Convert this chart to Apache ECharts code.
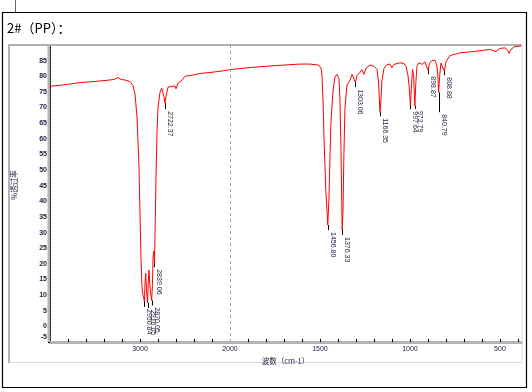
<!DOCTYPE html>
<html><head><meta charset="utf-8">
<script src="https://cdn.jsdelivr.net/npm/echarts@6/dist/echarts.min.js"></script>
<style>html,body{margin:0;padding:0;background:#fff}#c{width:532px;height:392px}</style>
</head><body><div id="c"></div>
<script>
const titleText = '2#（PP）：';
const xName = '波数（cm-1）';
const yName = '%透过率';
const xTickLabels = [3000, 2000, 1500, 1000, 500];
const yTickLabels = [-5,0,5,10,15,20,25,30,35,40,45,50,55,60,65,70,75,80,85];

const wavenumbers = [4000,3889,3778,3667,3556,3444,3333,3278,3244,3211,3167,3111,3078,3056,3033,3011,3000,2989,2978,2967,2958,2950.84,2944,2936,2928,2916.05,2908,2900,2890,2880,2870.05,2862,2855,2848,2839.06,2833,2822,2811,2800,2778,2759,2744,2733,2722.37,2711,2700,2689,2644,2611,2600,2578,2533,2500,2411,2333,2222,2111,2000,
1889,1778,1667,1611,1556,1511,1494,1489,1483,1478,1472,1467,1461,1456.80,1450,1444,1439,1428,1417,1406,1394,1389,1383,1379,1376.33,1372,1367,1361,1350,1333,1322,1311,1303.06,1294,1278,1267,1256,1244,1222,1200,1183,1175,1166.35,1161,1156,1144,1128,1111,1100,1089,1056,1033,1022,1011,1004,997.64,992,986,980,972.79,967,961,950,933,917,906,898.87,892,878,861,850,845,840.79,835,828,817,808.88,800,778,722,628,556,522,500,472,456,450,439,417,383];
const transmittance = [76.8,77.1,77.5,78.0,78.2,78.5,78.8,79.1,79.6,79.0,78.8,78.3,77.0,74.5,67,51,36,22,13,10,9,7.8,14,17,12,7.5,14,18,13,10,8.3,13,22,24,20.2,30,48,62,70,74.8,76.2,75.8,73.5,71.4,73.5,75,76.5,76.8,76.9,76,77.8,78.7,80,80.4,80.9,81.2,81.6,82.1,
82.8,83.3,83.7,83.9,83.9,83.6,82.7,80.5,72.5,61,51,43,37,32.4,41,55,65,75,79.7,80.6,79.2,72.5,56,40,30.8,37,55,70,77.2,78.7,80.6,80.2,78.1,80.2,81.2,82.1,80.6,82.6,83.6,83.2,82.2,78.5,68.5,72.5,78.5,82.6,83.7,83.9,82.7,83.8,84.3,84.1,83.2,80.3,76.5,70.7,76.5,82.2,80.5,70.5,78.2,83.2,84.3,83.8,84.6,84.1,81.9,84.1,85.0,85.1,83.3,80,74.9,80,84.2,84.6,81.6,84.6,86.6,87.5,88.0,88.6,87.9,88.9,89.1,88.2,87.3,88.6,89.5,89.7];

const peakWavenumbers = [2950.84,2916.05,2870.05,2839.06,2722.37,1456.80,1376.33,1303.06,1166.35,997.64,972.79,898.87,840.79,808.88];
const peakValues = [7.8,7.5,8.3,20.2,71.4,32.4,30.8,78.1,68.5,70.7,70.5,81.9,74.9,81.6];
const peakLabels = ['2950.84','2916.05','2870.05','2839.06','2722.37','1456.80','1376.33','1303.06','1166.35','997.64','972.79','898.87','840.79','808.88'];
// leader lengths in px (style)
const leaderPx = [5,5,5,4,6,5,5,5,4,4,3,4,20,4];

function toT(w){ return w >= 2000 ? (4000 - w) / 2 : 1000 + (2000 - w); }
function toW(t){ return t <= 1000 ? 4000 - 2 * t : 3000 - t; }

const chart = echarts.init(document.getElementById('c'), null, {renderer:'canvas'});
const lblColor = '#1c1c3c';
chart.setOption({
  animation:false,
  grid:{left:50, right:11, top:45, bottom:50, containLabel:false},
  graphic:[
    {type:'rect', shape:{x:2.5,y:12.5,width:524,height:375}, style:{fill:'none',stroke:'#000',lineWidth:1.2}, z:0},
    {type:'line', shape:{x1:15.5,y1:0,x2:15.5,y2:12}, style:{stroke:'#666',lineWidth:1}},
    {type:'text', x:7, y:28, style:{text:titleText, fill:'#000', font:'13px "Noto Sans CJK SC"', verticalAlign:'middle'}},
    {type:'rect', shape:{x:8.5,y:44.5,width:513.5,height:318}, style:{fill:'none',stroke:'#dcdcdc',lineWidth:1}, z:0},
    {type:'rect', shape:{x:8,y:44,width:2,height:319}, style:{fill:'#b4b4b4'}, z:1},
    {type:'rect', shape:{x:8,y:44,width:514,height:2}, style:{fill:'#b0b0b0'}, z:1},
    {type:'rect', shape:{x:47.5,y:45,width:2.5,height:297}, style:{fill:'#b4b4b4'}, z:1},
    {type:'text', x:14, y:185, rotation:Math.PI/2, style:{text:yName, fill:lblColor, font:'7.5px "Noto Sans CJK SC"', align:'center', verticalAlign:'middle'}}
  ],
  xAxis:{
    type:'value', min:0, max:2617, interval:100,
    axisLine:{show:true, onZero:false, lineStyle:{color:'#b4b4b4', width:3}},
    axisTick:{show:true, inside:true, length:3, lineStyle:{color:'#000', width:1}},
    axisLabel:{fontSize:7, color:lblColor, margin:4, fontFamily:'Liberation Sans',
      showMaxLabel:false, showMinLabel:false,
      formatter:function(t){ const w = Math.round(toW(t)); return xTickLabels.indexOf(w) >= 0 ? String(w) : ''; }},
    splitLine:{show:false},
    name:xName, nameLocation:'middle', nameGap:15,
    nameTextStyle:{fontSize:7.5, color:lblColor, fontFamily:'Noto Sans CJK SC'}
  },
  yAxis:{
    type:'value', min:-5, max:90, interval:5,
    axisLine:{show:true, onZero:false, lineStyle:{color:'#000', width:1, type:[1,1]}},
    axisTick:{show:true, length:2, lineStyle:{color:'#000'}},
    axisLabel:{fontSize:7, color:lblColor, margin:3, fontFamily:'Liberation Sans', fontWeight:'bold',
      formatter:function(v){ if (yTickLabels.indexOf(v) < 0) return ''; return v === yTickLabels[0] ? '{up|' + v + '}' : String(v); },
      rich:{up:{fontSize:7, color:lblColor, fontFamily:'Liberation Sans', fontWeight:'bold', padding:[0,0,9,0]}}},
    splitLine:{show:false}
  },
  series:[
    {type:'line', data:wavenumbers.map((w,i)=>[toT(w), transmittance[i]]), showSymbol:false, symbol:'none',
     lineStyle:{color:'#ff0000', width:1}, silent:true, z:3,
     markLine:{silent:true, symbol:'none', label:{show:false}, lineStyle:{color:'#a8a8a8', type:[3,3], width:1},
       data:[{xAxis:toT(2000)}]}},
    {type:'custom', coordinateSystem:'cartesian2d', silent:true, z:5,
     data:peakWavenumbers.map((w,i)=>[toT(w), peakValues[i], i]),
     renderItem:function(params, api){
       const i = api.value(2);
       const p = api.coord([api.value(0), api.value(1)]);
       const L = leaderPx[i];
       const x = Math.round(p[0]) + 0.5;
       return {type:'group', children:[
         {type:'line', shape:{x1:x, y1:p[1], x2:x, y2:p[1]+L}, style:{stroke:'#000', lineWidth:1}},
         {type:'text', x:x+0.5, y:p[1]+L+2, rotation:-Math.PI/2,
          style:{text:peakLabels[i], fill:lblColor, font:'7px "Liberation Sans"', align:'left', verticalAlign:'bottom'}}
       ]};
     }}
  ]
});
</script></body></html>
